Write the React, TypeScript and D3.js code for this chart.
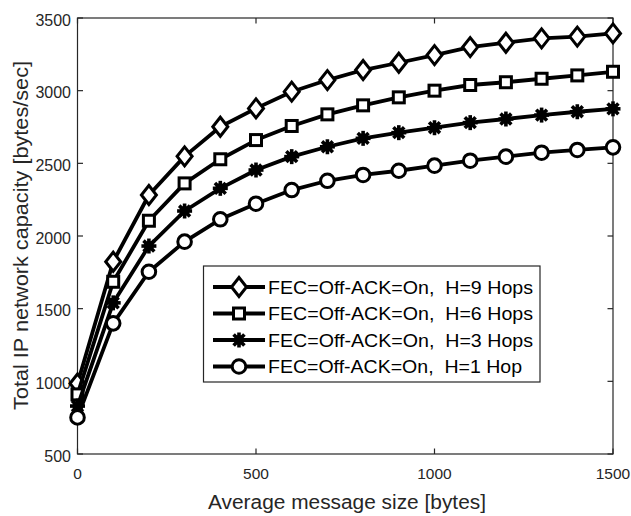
import React from "react";
import * as d3 from "d3";

const xValues = [0, 100, 200, 300, 400, 500, 600, 700, 800, 900, 1000, 1100, 1200, 1300, 1400, 1500];
const hops9 = [985, 1823, 2282, 2548, 2752, 2878, 2993, 3073, 3142, 3192, 3245, 3300, 3330, 3360, 3372, 3394];
const hops6 = [910, 1685, 2105, 2362, 2528, 2660, 2757, 2837, 2899, 2954, 3000, 3039, 3058, 3082, 3105, 3130];
const hops3 = [830, 1540, 1931, 2172, 2328, 2454, 2546, 2614, 2672, 2711, 2745, 2780, 2805, 2832, 2855, 2875];
const hops1 = [752, 1399, 1754, 1961, 2115, 2222, 2316, 2380, 2420, 2449, 2484, 2518, 2546, 2573, 2592, 2610];

const seriesNames = [
  "FEC=Off-ACK=On,  H=9 Hops",
  "FEC=Off-ACK=On,  H=6 Hops",
  "FEC=Off-ACK=On,  H=3 Hops",
  "FEC=Off-ACK=On,  H=1 Hop",
];
const seriesMarkers = ["diamond", "square", "asterisk", "circle"];
const seriesValues = [hops9, hops6, hops3, hops1];

const xTicks = [0, 500, 1000, 1500];
const yTicks = [500, 1000, 1500, 2000, 2500, 3000, 3500];
const xLabel = "Average message size [bytes]";
const yLabel = "Total IP network capacity [bytes/sec]";

const FONT = "'Liberation Sans', Arial, Helvetica, sans-serif";
const AX = "#262626";

function Marker({ type, x, y }: { type: string; x: number; y: number }) {
  const sw = 3;
  if (type === "diamond") {
    const w = 7.5, h = 9.5;
    return (
      <path
        d={`M${x},${y - h}L${x + w},${y}L${x},${y + h}L${x - w},${y}Z`}
        fill="#fff"
        stroke="#000"
        strokeWidth={sw}
        strokeLinejoin="miter"
      />
    );
  }
  if (type === "square") {
    const s = 5.5;
    return <rect x={x - s} y={y - s} width={2 * s} height={2 * s} fill="#fff" stroke="#000" strokeWidth={sw} />;
  }
  if (type === "circle") {
    return <circle cx={x} cy={y} r={6.8} fill="#fff" stroke="#000" strokeWidth={sw} />;
  }
  const r = 7.5;
  const d = r * 0.72;
  return (
    <g stroke="#000" strokeWidth={3.6}>
      <line x1={x - r} y1={y} x2={x + r} y2={y} />
      <line x1={x} y1={y - r} x2={x} y2={y + r} />
      <line x1={x - d} y1={y - d} x2={x + d} y2={y + d} />
      <line x1={x - d} y1={y + d} x2={x + d} y2={y - d} />
      <circle cx={x} cy={y} r={5} fill="#000" stroke="none" />
    </g>
  );
}

export default function App() {
  const W = 631, H = 516;
  const left = 77.5, right = 613, top = 18, bottom = 454;
  const x = d3.scaleLinear().domain([0, 1500]).range([left, right]);
  const y = d3.scaleLinear().domain([500, 3500]).range([bottom, top]);
  const line = d3
    .line<number>()
    .x((_, i) => x(xValues[i]))
    .y((v) => y(v));
  const tickLen = 5.5;

  const legX = 203.5, legY = 266, legW = 336.5, legH = 116;
  const rowYs = [287, 313.5, 340, 366.5];
  const rowLens = [265, 265, 265, 254];

  return (
    <svg
      width={W}
      height={H}
      style={{ position: "absolute", left: 0, top: 0, background: "#fff" }}
      fontFamily={FONT}
    >
      <rect x={0} y={0} width={W} height={H} fill="#fff" />
      <rect x={left} y={top} width={right - left} height={bottom - top} fill="none" stroke={AX} strokeWidth={1.2} />
      {xTicks.map((t) => (
        <g key={"xt" + t}>
          <line x1={x(t)} x2={x(t)} y1={bottom} y2={bottom - tickLen} stroke={AX} strokeWidth={1.2} />
          <line x1={x(t)} x2={x(t)} y1={top} y2={top + tickLen} stroke={AX} strokeWidth={1.2} />
          <text x={x(t)} y={479} textAnchor="middle" fontSize={15.5} fill={AX}>
            {t}
          </text>
        </g>
      ))}
      {yTicks.map((t) => (
        <g key={"yt" + t}>
          <line x1={left} x2={left + tickLen} y1={y(t)} y2={y(t)} stroke={AX} strokeWidth={1.2} />
          <line x1={right} x2={right - tickLen} y1={y(t)} y2={y(t)} stroke={AX} strokeWidth={1.2} />
          <text x={71} y={y(t) + 7.5} textAnchor="end" fontSize={16} fill={AX}>
            {t}
          </text>
        </g>
      ))}
      <text x={347} y={509} textAnchor="middle" fontSize={20} fill={AX} textLength={278} lengthAdjust="spacingAndGlyphs">
        {xLabel}
      </text>
      <text
        transform="translate(28,235.5) rotate(-90)"
        textAnchor="middle"
        fontSize={20}
        fill={AX}
        textLength={349}
        lengthAdjust="spacingAndGlyphs"
      >
        {yLabel}
      </text>

      {seriesValues.map((vals, si) => (
        <g key={"s" + si}>
          <path d={line(vals) || ""} fill="none" stroke="#000" strokeWidth={3.8} strokeLinejoin="round" />
          {vals.map((v, i) => (
            <Marker key={i} type={seriesMarkers[si]} x={x(xValues[i])} y={y(v)} />
          ))}
        </g>
      ))}

      <rect x={legX} y={legY} width={legW} height={legH} fill="#fff" stroke={AX} strokeWidth={1.2} />
      {seriesNames.map((name, i) => (
        <g key={"l" + i}>
          <line x1={213} x2={265} y1={rowYs[i]} y2={rowYs[i]} stroke="#000" strokeWidth={3.8} />
          <Marker type={seriesMarkers[i]} x={239} y={rowYs[i]} />
          <text
            x={268}
            y={rowYs[i] + 6.5}
            fontSize={17.5}
            fill="#000"
            style={{ whiteSpace: "pre" }}
            xmlSpace="preserve"
            textLength={rowLens[i]}
            lengthAdjust="spacingAndGlyphs"
          >
            {name}
          </text>
        </g>
      ))}
    </svg>
  );
}
